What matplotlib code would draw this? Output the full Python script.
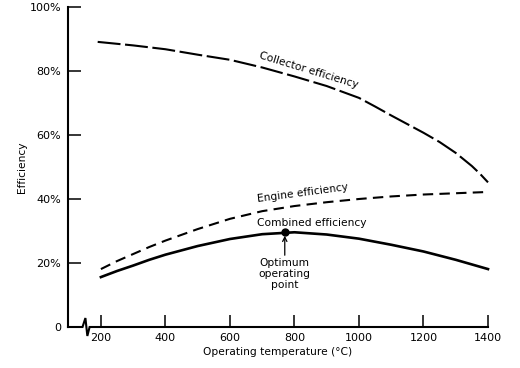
import matplotlib
matplotlib.use("Agg")
import matplotlib.pyplot as plt

collector_t = [190, 300, 400, 500, 600, 700, 800, 900, 1000, 1050, 1100, 1150, 1200, 1250, 1300, 1350, 1375, 1400]
collector = [89.1, 88.0, 86.8, 85.1, 83.5, 81.1, 78.3, 75.3, 71.6, 68.9, 66.1, 63.4, 60.7, 57.8, 54.4, 50.3, 47.9, 45.2]
temps = [200, 250, 300, 350, 400, 500, 600, 700, 800, 900, 1000, 1100, 1200, 1300, 1400]
engine = [18.1, 20.6, 22.8, 25.0, 27.0, 30.6, 33.8, 36.2, 37.8, 39.0, 40.0, 40.8, 41.4, 41.8, 42.2]
combined = [15.6, 17.5, 19.2, 21.0, 22.6, 25.3, 27.5, 29.0, 29.6, 28.9, 27.6, 25.7, 23.6, 21.0, 18.1]
optimum_t = 770
optimum_eff = 29.7

x_ticks = [200, 400, 600, 800, 1000, 1200, 1400]
y_ticks = [0, 20, 40, 60, 80, 100]
y_ticklabels = ["0", "20%", "40%", "60%", "80%", "100%"]

plt.rcParams['font.family'] = ['DejaVu Sans']
fs = 8
fs_lab = 7.7

fig = plt.figure(figsize=(5.2, 3.68), dpi=100)
ax = fig.add_axes([68/520, 1 - 327/368, (488-68)/520, (327-7)/368])
ax.set_xlim(98, 1400)
ax.set_ylim(0, 100)

lw = 1.5
ax.plot(collector_t, collector, color='black', lw=lw, dashes=(11, 2.2), clip_on=False)
ax.plot(temps, engine, color='black', lw=lw, dashes=(5, 3), clip_on=False)
ax.plot(temps, combined, color='black', lw=1.9, clip_on=False)
ax.plot([optimum_t], [optimum_eff], 'o', color='black', ms=5, clip_on=False)

for s in ['top', 'right', 'bottom']:
    ax.spines[s].set_visible(False)
ax.spines['left'].set_linewidth(1.5)

# broken x axis
bx = [98, 143, 152, 158, 165, 1400]
by = [0, 0, 2.8, -2.8, 0, 0]
ax.plot(bx, by, color='black', lw=1.5, clip_on=False, solid_joinstyle='miter')

ax.set_xticks(x_ticks)
ax.set_yticks(y_ticks)
ax.set_yticklabels(y_ticklabels)
ax.tick_params(axis='both', direction='in', length=9, width=1.1, labelsize=fs, pad=4)
ax.tick_params(axis='y', pad=5)

ax.set_xlabel("Operating temperature (°C)", fontsize=fs_lab, labelpad=3)
ax.set_ylabel("Efficiency", fontsize=fs_lab, labelpad=2)

ax.text(845, 80.3, "Collector efficiency", fontsize=fs_lab, rotation=-17,
        ha='center', va='center', rotation_mode='anchor')
ax.text(826, 42.0, "Engine efficiency", fontsize=fs_lab, rotation=7.5,
        ha='center', va='center', rotation_mode='anchor')
ax.text(854, 32.5, "Combined efficiency", fontsize=fs_lab, ha='center', va='center')
ax.annotate("Optimum\noperating\npoint", xy=(optimum_t, 28.5), xytext=(optimum_t, 16.5),
            fontsize=fs_lab, ha='center', va='center', linespacing=1.15,
            arrowprops=dict(arrowstyle='->', color='black', lw=0.9, shrinkA=14, shrinkB=0))

fig.savefig("out.png", dpi=100)
